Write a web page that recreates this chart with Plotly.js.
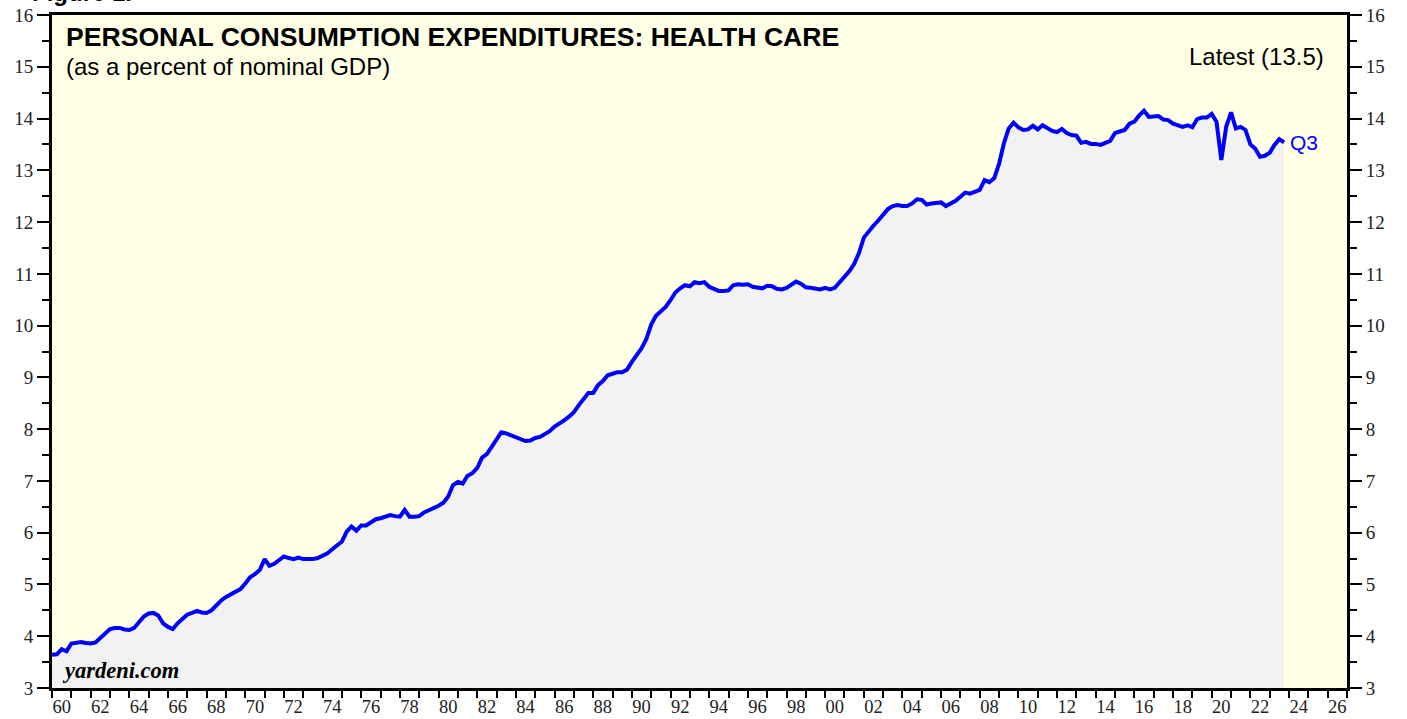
<!DOCTYPE html>
<html>
<head>
<meta charset="utf-8">
<script src="https://cdn.plot.ly/plotly-3.0.1.min.js"></script>
<style>html,body{margin:0;padding:0;background:#fff;}#chart{width:1407px;height:719px;}</style>
</head>
<body>
<div id="chart"></div>
<script>
// Quarterly values (percent of nominal GDP), first value = 1959 Q4, last = 2023 Q3
const pce1960s = [3.64,3.65,3.75,3.71, 3.86,3.88,3.89,3.87, 3.86,3.88,3.96,4.04, 4.14,4.16,4.16,4.13,
                  4.12,4.16,4.28,4.38, 4.44,4.45,4.40,4.25, 4.18,4.14,4.25,4.33, 4.42,4.45,4.49,4.46,
                  4.45,4.50,4.60,4.69, 4.76,4.81,4.87,4.91];
const pce1970s = [5.02,5.14,5.20,5.28, 5.49,5.36,5.40,5.46, 5.54,5.51,5.49,5.52, 5.49,5.49,5.49,5.51,
                  5.56,5.60,5.68,5.75, 5.83,6.02,6.12,6.04, 6.14,6.14,6.20,6.26, 6.28,6.30,6.34,6.32,
                  6.31,6.44,6.31,6.31, 6.32,6.39,6.43,6.46];
const pce1980s = [6.52,6.58,6.70,6.92, 6.98,6.95,7.10,7.15, 7.25,7.45,7.52,7.66, 7.82,7.94,7.92,7.88,
                  7.85,7.81,7.77,7.78, 7.83,7.85,7.90,7.96, 8.05,8.10,8.17,8.24, 8.33,8.46,8.57,8.70,
                  8.70,8.85,8.93,9.04, 9.07,9.10,9.10,9.15];
const pce1990s = [9.30,9.43,9.56,9.74, 10.02,10.19,10.27,10.36, 10.49,10.64,10.72,10.78, 10.76,10.84,10.82,10.84,
                  10.75,10.71,10.67,10.67, 10.68,10.78,10.80,10.79, 10.80,10.75,10.73,10.72, 10.77,10.76,10.71,10.70,
                  10.73,10.80,10.85,10.81, 10.74,10.73,10.72,10.70];
const pce2000s = [10.73,10.70,10.73,10.83, 10.93,11.05,11.19,11.40, 11.70,11.82,11.93,12.03, 12.14,12.25,12.31,12.33,
                  12.31,12.31,12.36,12.44, 12.43,12.34,12.36,12.37, 12.38,12.31,12.35,12.41, 12.49,12.57,12.55,12.58,
                  12.62,12.81,12.77,12.85, 13.13,13.52,13.81,13.92];
const pce2010s = [13.83,13.78,13.79,13.86, 13.79,13.87,13.81,13.76, 13.74,13.80,13.72,13.68, 13.67,13.53,13.55,13.51,
                  13.51,13.49,13.53,13.57, 13.72,13.76,13.78,13.90, 13.94,14.06,14.15,14.03, 14.04,14.05,13.98,13.97,
                  13.90,13.86,13.84,13.87, 13.83,13.99,14.02,14.02];
const pce2020s = [14.09,13.94,13.20,13.84, 14.12,13.81,13.84,13.78, 13.50,13.42,13.26,13.28, 13.34,13.49,13.60,13.54];

const firstQuarterEnd = {year: 1960, month: 1}; // 1959 Q4 plotted at its quarter end
const values = [].concat(pce1960s, pce1970s, pce1980s, pce1990s, pce2000s, pce2010s, pce2020s);
const dates = values.map((v, i) => {
  const m = (firstQuarterEnd.month - 1) + i * 3;
  const y = firstQuarterEnd.year + Math.floor(m / 12);
  const mm = (m % 12) + 1;
  return y + '-' + String(mm).padStart(2, '0') + '-01';
});

const titleText = 'PERSONAL CONSUMPTION EXPENDITURES: HEALTH CARE';
const subtitleText = '(as a percent of nominal GDP)';
const latestText = 'Latest (13.5)';
const lastLabel = 'Q3';
const sourceText = 'yardeni.com';

const tickFont = {family: 'Liberation Serif, Times New Roman, serif', size: 19, color: '#222'};

const yAxisCommon = {
  range: [3, 16], tickmode: 'linear', tick0: 3, dtick: 1,
  ticks: 'outside', ticklen: 12, tickwidth: 2, tickcolor: '#000',
  showline: true, linewidth: 3, linecolor: '#000',
  showgrid: false, zeroline: false, fixedrange: true,
  tickfont: tickFont,
  minor: {dtick: 0.5, tick0: 3, ticks: 'outside', ticklen: 7, tickwidth: 2, tickcolor: '#000', showgrid: false}
};

const traces = [
  {
    x: dates, y: values, type: 'scatter', mode: 'lines',
    line: {color: '#0000ff', width: 4},
    fill: 'tozeroy', fillcolor: '#f2f2f2',
    hoverinfo: 'skip', showlegend: false
  },
  {
    x: [dates[0]], y: [values[0]], yaxis: 'y2', type: 'scatter', mode: 'markers',
    marker: {opacity: 0}, hoverinfo: 'skip', showlegend: false
  }
];

const layout = {
  width: 1407, height: 719,
  margin: {l: 52, r: 60, t: 15, b: 31, pad: 0},
  paper_bgcolor: '#ffffff', plot_bgcolor: '#ffffe6',
  showlegend: false,
  xaxis: {
    type: 'date', range: ['1960-01-01', '2027-01-01'],
    tick0: '1960-01-01', dtick: 'M12', tickformat: '%y',
    ticklabelmode: 'period', ticklabelstep: 2, ticklabelstandoff: -7,
    ticks: 'outside', ticklen: 7, tickwidth: 2, tickcolor: '#000',
    showline: true, linewidth: 3, linecolor: '#000', mirror: true,
    showgrid: false, zeroline: false, fixedrange: true,
    tickfont: {family: 'Liberation Serif, Times New Roman, serif', size: 18.5, color: '#222'}
  },
  yaxis: Object.assign({side: 'left'}, yAxisCommon),
  yaxis2: Object.assign({side: 'right', overlaying: 'y', anchor: 'x'}, yAxisCommon),
  annotations: [
    {xref: 'paper', yref: 'paper', x: 0.0093, y: 0.9673, xanchor: 'left', yanchor: 'middle', showarrow: false,
     text: '<b>' + titleText + '</b>', font: {family: 'Liberation Sans, Arial, sans-serif', size: 26.6, color: '#000'}},
    {xref: 'paper', yref: 'paper', x: 0.0093, y: 0.9242, xanchor: 'left', yanchor: 'middle', showarrow: false,
     text: subtitleText, font: {family: 'Liberation Sans, Arial, sans-serif', size: 24, color: '#000'}},
    {xref: 'paper', yref: 'paper', x: 0.9838, y: 0.939, xanchor: 'right', yanchor: 'middle', showarrow: false,
     text: latestText, font: {family: 'Liberation Sans, Arial, sans-serif', size: 24, color: '#000'}},
    {xref: 'paper', yref: 'paper', x: 0.0065, y: 0.0267, xanchor: 'left', yanchor: 'middle', showarrow: false,
     text: '<b><i>' + sourceText + '</i></b>', font: {family: 'Liberation Serif, Times New Roman, serif', size: 22.5, color: '#000'}},
    {xref: 'x', yref: 'y', x: dates[dates.length - 1], y: values[values.length - 1], xanchor: 'left', yanchor: 'middle',
     xshift: 4, showarrow: false, text: lastLabel,
     font: {family: 'Liberation Sans, Arial, sans-serif', size: 21, color: '#0000ff'}},
    {xref: 'paper', yref: 'paper', x: -0.017, y: 1.0104, xanchor: 'left', yanchor: 'bottom', showarrow: false,
     text: '<b>Figure 1.</b>', font: {family: 'Liberation Sans, Arial, sans-serif', size: 24, color: '#000'}}
  ]
};

Plotly.newPlot('chart', traces, layout, {staticPlot: true, displayModeBar: false});
</script>
</body>
</html>
